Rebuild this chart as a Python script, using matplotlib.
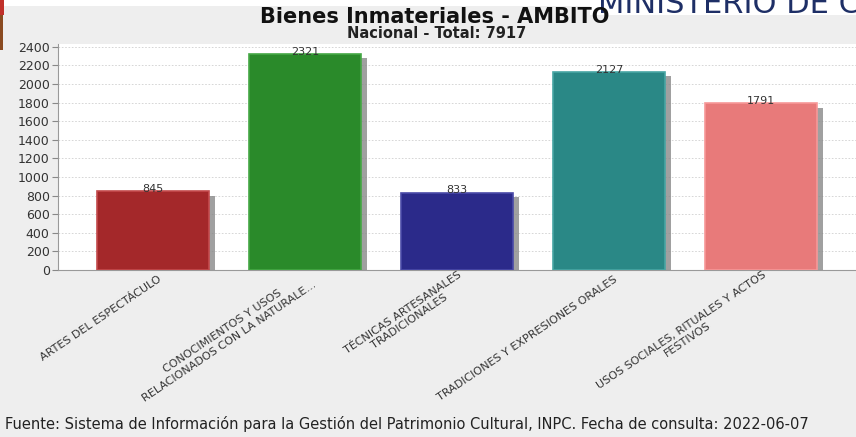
import matplotlib.pyplot as plt
import matplotlib.patheffects as pe
from matplotlib.patches import Rectangle

# Datos del grafico (INPC, bienes inmateriales por ambito)
categorias = [
    "ARTES DEL ESPECTÁCULO",
    "CONOCIMIENTOS Y USOS\nRELACIONADOS CON LA NATURALE...",
    "TÉCNICAS ARTESANALES\nTRADICIONALES",
    "TRADICIONES Y EXPRESIONES ORALES",
    "USOS SOCIALES, RITUALES Y ACTOS\nFESTIVOS",
]
valores = [845, 2321, 833, 2127, 1791]
colores = ["#A4282A", "#2A8A2A", "#2B2A8A", "#2A8886", "#E87A7A"]
bordes = ["#C44A4C", "#45A845", "#4A4AA8", "#48A6A4", "#F79898"]
yticks = list(range(0, 2401, 200))

titulo = "Bienes Inmateriales - AMBITO"
subtitulo = "Nacional - Total: 7917"
fuente = ("Fuente: Sistema de Información para la Gestión del Patrimonio "
          "Cultural, INPC. Fecha de consulta: 2022-06-07")

W, H = 856, 437
fig = plt.figure(figsize=(W / 100, H / 100), dpi=100, facecolor="#EEEEEE")

# restos de la pagina web en el borde superior
fig.patches.append(Rectangle((0, 1 - 6 / H), 1, 6 / H, transform=fig.transFigure,
                             facecolor="white", edgecolor="none", zorder=0))
fig.patches.append(Rectangle((590 / W, 1 - 15 / H), 1, 15 / H, transform=fig.transFigure,
                             facecolor="white", edgecolor="none", zorder=0))
fig.patches.append(Rectangle((0, 1 - 15 / H), 4 / W, 15 / H, transform=fig.transFigure,
                             facecolor="#C0302A", edgecolor="none", zorder=1))
fig.patches.append(Rectangle((0, 1 - 50 / H), 3 / W, 35 / H, transform=fig.transFigure,
                             facecolor="#8A4A20", edgecolor="none", zorder=1))
fig.text(598 / W, 1 - 13 / H, "MINISTERIO DE C", fontsize=22, color="#1E2F66",
         ha="left", va="baseline")

ax = fig.add_axes([58 / W, 1 - 270 / H, 1 - 58 / W, (270 - 44) / H])
ax.set_facecolor("white")

x = range(len(valores))
barras = ax.bar(x, valores, width=0.74, color=colores, edgecolor=bordes,
                linewidth=1.2, zorder=3)
for b in barras:
    b.set_path_effects([pe.SimplePatchShadow(offset=(3.8, -3), shadow_rgbFace="#888888",
                                             alpha=0.8), pe.Normal()])

for i, v in enumerate(valores):
    ax.annotate(str(v), (i, v), xytext=(0, 1.5), textcoords="offset points",
                ha="center", va="center", fontsize=8, color="#333333", zorder=4)

ax.set_xlim(-0.625, len(valores) - 0.375)
ax.set_ylim(0, 2430)
ax.set_yticks(yticks)
ax.set_yticklabels([str(t) for t in yticks], fontsize=9, color="#333333")
ax.yaxis.grid(True, linestyle=(0, (2, 2)), color="#D0D0D0", linewidth=0.6, zorder=0)
ax.tick_params(axis="y", length=4, color="#888888", pad=2)
ax.tick_params(axis="x", length=0)
ax.set_xticks(list(x))
ax.set_xticklabels([])
for s in ["top", "right"]:
    ax.spines[s].set_visible(False)
for s in ["left", "bottom"]:
    ax.spines[s].set_color("#999999")
    ax.spines[s].set_linewidth(0.8)

for i, lab in enumerate(categorias):
    ax.annotate(lab, (i, 0), xytext=(5, -6), textcoords="offset points",
                ha="right", va="center", rotation=34, rotation_mode="anchor",
                multialignment="center", linespacing=1.2, fontsize=8,
                color="#333333", annotation_clip=False)

fig.text(0.508, 1 - 23 / H, titulo, fontsize=15, fontweight="bold",
         ha="center", va="baseline", color="#111111")
fig.text(0.510, 1 - 37.5 / H, subtitulo, fontsize=10.5, fontweight="bold",
         ha="center", va="baseline", color="#222222")
fig.text(5 / W, 1 - 424 / H, fuente, fontsize=10.5, ha="left", va="center",
         color="#222222")

fig.savefig("out.png", dpi=100, facecolor=fig.get_facecolor())
